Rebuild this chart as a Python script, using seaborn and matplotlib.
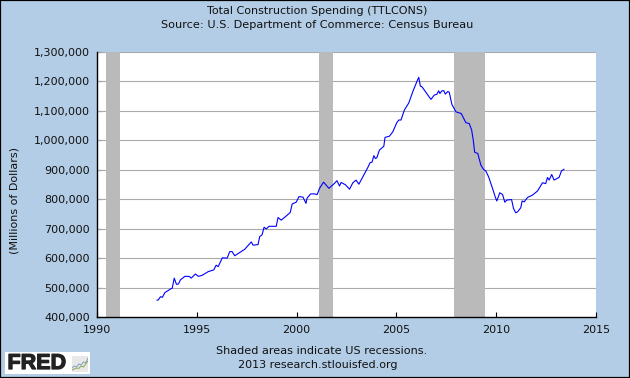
import matplotlib.pyplot as plt
import matplotlib.patheffects as pe
import pandas as pd
import seaborn as sns
from matplotlib.patches import Rectangle

# values (year, millions of dollars / 1000)
years = [1993.0, 1993.07, 1993.18, 1993.28, 1993.40, 1993.57, 1993.68, 1993.77, 1993.87, 1993.98,
         1994.08, 1994.18, 1994.40, 1994.62, 1994.72, 1994.93, 1995.08, 1995.28, 1995.57, 1995.85,
         1995.97, 1996.07, 1996.28, 1996.52, 1996.65, 1996.77, 1996.90, 1997.15, 1997.40, 1997.73,
         1997.82, 1998.07, 1998.15, 1998.27, 1998.37, 1998.48, 1998.62, 1998.98, 1999.07, 1999.23,
         1999.48, 1999.68, 1999.78, 1999.98, 2000.12, 2000.32, 2000.47, 2000.52, 2000.70, 2000.90,
         2001.03, 2001.15, 2001.35, 2001.62, 2001.90, 2002.02, 2002.15, 2002.23, 2002.45, 2002.65,
         2002.82, 2002.98, 2003.12, 2003.32, 2003.57, 2003.68, 2003.78, 2003.87, 2003.95, 2004.02,
         2004.15, 2004.37, 2004.43, 2004.65, 2004.82, 2005.02, 2005.12, 2005.23, 2005.40, 2005.62,
         2005.82, 2006.07, 2006.12, 2006.20, 2006.28, 2006.52, 2006.73, 2006.90, 2007.02, 2007.12,
         2007.18, 2007.28, 2007.37, 2007.45, 2007.58, 2007.65, 2007.78, 2007.98, 2008.25, 2008.48,
         2008.65, 2008.77, 2008.85, 2008.92, 2009.08, 2009.23, 2009.37, 2009.48, 2009.62, 2009.82,
         2009.95, 2010.03, 2010.18, 2010.32, 2010.43, 2010.53, 2010.77, 2010.87, 2010.98, 2011.07,
         2011.23, 2011.30, 2011.40, 2011.57, 2011.82, 2012.07, 2012.32, 2012.48, 2012.57, 2012.65,
         2012.78, 2012.90, 2013.15, 2013.27, 2013.40]
spending = [457, 458, 469, 467, 483, 490, 495, 498, 532, 511,
            512, 526, 538, 538, 532, 546, 538, 542, 554, 560,
            576, 571, 601, 600, 622, 622, 608, 619, 630, 655,
            644, 646, 673, 679, 705, 699, 708, 708, 738, 729,
            743, 755, 784, 790, 809, 807, 786, 803, 818, 818,
            816, 837, 858, 837, 854, 863, 845, 857, 849, 834,
            856, 865, 851, 876, 908, 924, 926, 948, 938, 941,
            967, 980, 1010, 1014, 1029, 1060, 1069, 1069, 1103, 1127,
            1165, 1207, 1214, 1184, 1182, 1159, 1139, 1154, 1156, 1168,
            1159, 1168, 1169, 1157, 1166, 1163, 1122, 1097, 1091, 1060,
            1057, 1035, 1001, 960, 955, 916, 901, 896, 876, 836,
            808, 794, 822, 816, 790, 797, 799, 768, 754, 757,
            771, 794, 791, 806, 814, 828, 856, 853, 874, 865,
            884, 865, 874, 896, 902]
recession_start = [1990.45, 2001.1, 2007.9]
recession_end = [1991.13, 2001.8, 2009.45]
x_ticks = [1990, 1995, 2000, 2005, 2010, 2015]
y_ticks = [400, 500, 600, 700, 800, 900, 1000, 1100, 1200, 1300]

# small logo chart
logo_x = [0, 1, 2, 3, 4, 5, 6, 7]
logo_blue = [2, 3, 2.5, 4, 3.5, 5, 4.5, 7]
logo_green = [1, 1.5, 2, 1.8, 3, 2.5, 4, 5.5]

bg = '#b3cde6'
df = pd.DataFrame({'year': years, 'value': [v * 1000 for v in spending]})

sns.set_theme(style='white', rc={'font.family': 'DejaVu Sans', 'font.size': 8})
W, H = 630, 378
fig = plt.figure(figsize=(W / 100, H / 100), dpi=100, facecolor=bg)
ax = fig.add_axes([97 / W, 1 - 317 / H, 499 / W, 265 / H], facecolor='white')

for s, e in zip(recession_start, recession_end):
    ax.axvspan(s, e, color='#bababa', lw=0, zorder=2)
for v in y_ticks[1:]:
    ax.axhline(v * 1000, color='#aaaaaa', lw=0.8, zorder=1)

sns.lineplot(data=df, x='year', y='value', color='#0000ff', lw=0.8, ax=ax, zorder=3)

ax.set_xlim(1990, 2015)
ax.set_ylim(400000, 1300000)
ax.set_xticks(x_ticks)
ax.set_yticks([v * 1000 for v in y_ticks])
ax.set_yticklabels([f'{v * 1000:,}' for v in y_ticks])
ax.tick_params(direction='in', length=3.5, width=0.8, color='black', labelsize=8, labelcolor='#111111', pad=5,
               bottom=True, left=True)
ax.tick_params(axis='x', pad=6)
ax.set_xlabel('')
ax.set_ylabel('')
for side in ['top', 'right']:
    ax.spines[side].set_visible(False)
for side in ['left', 'bottom']:
    ax.spines[side].set_color('black')
    ax.spines[side].set_linewidth(1.0)

txt = dict(ha='center', va='center', color='#111111')
fig.text(317 / W, 1 - 11 / H, 'Total Construction Spending (TTLCONS)', fontsize=8, **txt)
fig.text(317 / W, 1 - 25 / H, 'Source: U.S. Department of Commerce: Census Bureau', fontsize=8.1, **txt)
fig.text(15 / W, 1 - 200.5 / H, '(Millions of Dollars)', rotation=90, fontsize=8, **txt)
fig.text(322 / W, 1 - 351 / H, 'Shaded areas indicate US recessions.', fontsize=8.1, **txt)
fig.text(317.5 / W, 1 - 365.5 / H, '2013 research.stlouisfed.org', fontsize=8, **txt)

# black frame round the figure
fig.add_artist(Rectangle((0, 0), 1, 1, transform=fig.transFigure, fill=False, ec='black', lw=1.6))

# FRED logo
fig.add_artist(Rectangle((5 / W, 1 - 374 / H), 85 / W, 22 / H, transform=fig.transFigure, fc='white', ec='none'))
fig.text(7.5 / W, 1 - 363.5 / H, 'FRED', ha='left', va='center', fontsize=15.5, fontweight='bold',
         family='Liberation Sans', color='#222222',
         path_effects=[pe.withStroke(linewidth=0.9, foreground='#222222')])
icon = fig.add_axes([72 / W, 1 - 372 / H, 16 / W, 16 / H], facecolor='#e8e8e8', zorder=5)
sns.lineplot(x=logo_x, y=logo_blue, color='#7f9fc0', lw=0.7, ax=icon)
sns.lineplot(x=logo_x, y=logo_green, color='#8aa84f', lw=0.7, ax=icon)
icon.set_xlim(0, 7)
icon.set_ylim(0, 8)
icon.set_xticks([])
icon.set_yticks([])
icon.set_xlabel('')
icon.set_ylabel('')
for s in icon.spines.values():
    s.set_visible(False)

fig.savefig('out.png', dpi=100, facecolor=bg)
